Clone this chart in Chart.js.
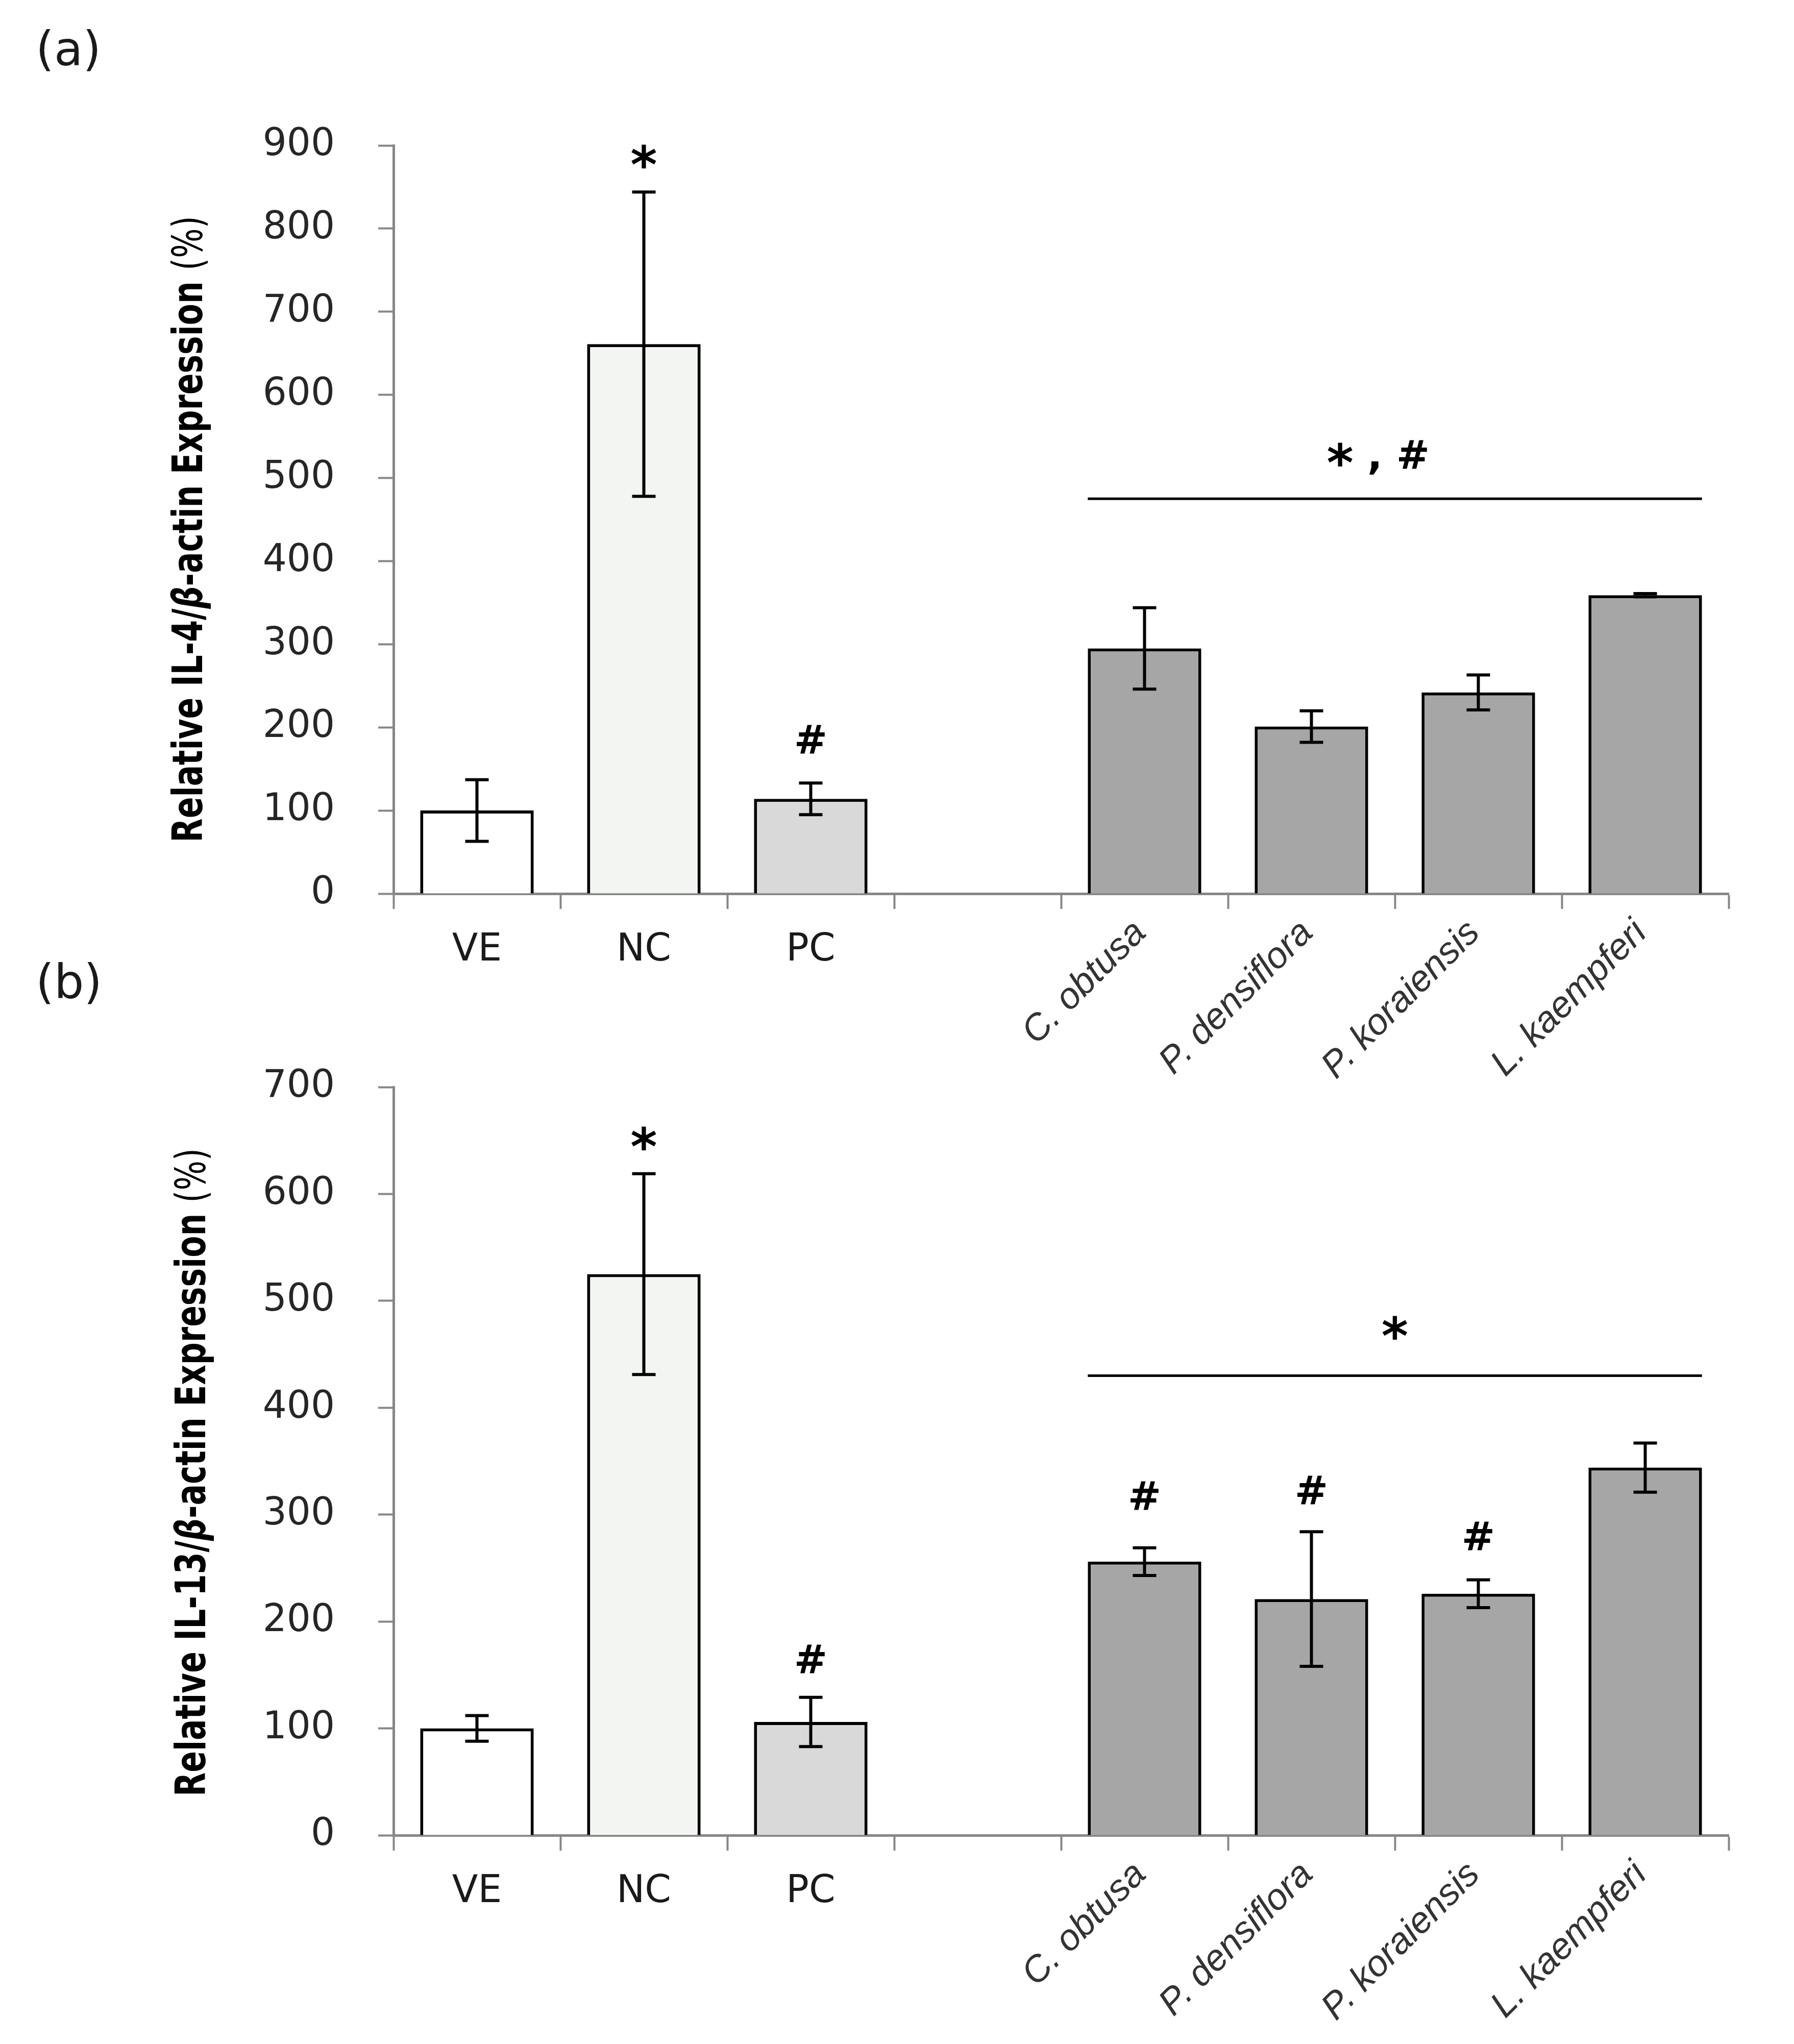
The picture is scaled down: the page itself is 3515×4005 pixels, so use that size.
<!DOCTYPE html>
<html>
<head>
<meta charset="utf-8">
<script src="https://cdn.jsdelivr.net/npm/chart.js@4.4.1/dist/chart.umd.min.js"></script>
<style>
  html, body { margin: 0; padding: 0; background: #fff; }
  body { width: 3515px; height: 4005px; position: relative; overflow: hidden; }
  canvas { position: absolute; left: 0; }
  #chartA { top: 0; }
  #chartB { top: 1850px; }
</style>
</head>
<body>
<canvas id="chartA" width="3515" height="2155"></canvas>
<canvas id="chartB" width="3515" height="2155"></canvas>
<script>
const controls = ['VE', 'NC', 'PC']
const extracts = ['C. obtusa', 'P. densiflora', 'P. koraiensis', 'L. kaempferi']
const categories = [...controls, '', ...extracts]

// (a) IL-4
const il4Mean = [100, 661, 114, null, 295, 201, 242, 359]
const il4Err = [37, 183, 19, null, 49, 19, 21, 2]
const il4Marks = [
  { text: '*', at: 1, y: 887 },
  { text: '#', at: 2, y: 186 },
  { text: '* , #', at: 5.4, y: 528 }
]
const il4Bracket = { from: 4, to: 7, y: 475 }

// (b) IL-13
const il13Mean = [100, 525, 106, null, 256, 221, 226, 344]
const il13Err = [12, 94, 23, null, 13, 63, 13, 23]
const il13Marks = [
  { text: '*', at: 1, y: 652 },
  { text: '#', at: 2, y: 165 },
  { text: '*', at: 5.5, y: 475 },
  { text: '#', at: 4, y: 318 },
  { text: '#', at: 5, y: 323 },
  { text: '#', at: 6, y: 280 }
]
const il13Bracket = { from: 4, to: 7, y: 430 }

const FONT = "'DejaVu Sans', sans-serif"
const markFont = "bold 78px " + FONT
const starFont = "bold 100px " + FONT

function drawMark(ctx, text, cx, cy) {
  ctx.font = markFont
  const h = ctx.measureText('#')
  const base = cy + (h.actualBoundingBoxAscent - h.actualBoundingBoxDescent) / 2
  const pieces = [...text].map(ch => {
    ctx.font = ch === '*' ? starFont : markFont
    const m = ctx.measureText(ch)
    let y = base
    if (ch === '*') y = cy + (m.actualBoundingBoxAscent - m.actualBoundingBoxDescent) / 2
    return { ch, font: ctx.font, w: m.width, y }
  })
  const total = pieces.reduce((s, p) => s + p.w, 0)
  let x = cx - total / 2
  ctx.textAlign = 'left'
  ctx.textBaseline = 'alphabetic'
  pieces.forEach(p => {
    ctx.font = p.font
    ctx.fillText(p.ch, x, p.y)
    x += p.w
  })
}

function drawTitle(ctx, segments, x, cy, squeeze) {
  ctx.save()
  ctx.translate(x, cy)
  ctx.rotate(-Math.PI / 2)
  ctx.scale(squeeze, 1)
  ctx.textAlign = 'left'
  ctx.textBaseline = 'alphabetic'
  let total = 0
  segments.forEach(s => { ctx.font = s.font; total += ctx.measureText(s.text).width })
  let pos = -total / 2
  segments.forEach(s => {
    ctx.font = s.font
    ctx.fillText(s.text, pos, 0)
    pos += ctx.measureText(s.text).width
  })
  ctx.restore()
}

function makeFigurePlugin(fig) {
  return {
    id: 'figure',
    afterDatasetsDraw(chart) {
      const ctx = chart.ctx
      const xs = chart.scales.x
      const ys = chart.scales.y
      const bars = chart.getDatasetMeta(0).data
      ctx.save()

      // error bars
      ctx.strokeStyle = '#000'
      ctx.lineWidth = 6
      fig.err.forEach((e, i) => {
        const v = fig.mean[i]
        if (v == null || e == null) return
        const x = bars[i].x
        const yt = ys.getPixelForValue(v + e)
        const yb = ys.getPixelForValue(v - e)
        ctx.beginPath()
        ctx.moveTo(x, yt); ctx.lineTo(x, yb)
        ctx.moveTo(x - 23, yt); ctx.lineTo(x + 23, yt)
        ctx.moveTo(x - 23, yb); ctx.lineTo(x + 23, yb)
        ctx.stroke()
      })

      // bracket over the extract groups
      const b = fig.bracket
      const x0 = bars[b.from].x - bars[b.from].width / 2
      const x1 = bars[b.to].x + bars[b.to].width / 2
      const yl = ys.getPixelForValue(b.y)
      ctx.lineWidth = 5
      ctx.beginPath()
      ctx.moveTo(x0, yl); ctx.lineTo(x1, yl)
      ctx.stroke()

      // significance marks
      ctx.fillStyle = '#000'
      fig.marks.forEach(m => drawMark(ctx, m.text, xs.getPixelForValue(m.at), ys.getPixelForValue(m.y)))

      // category labels
      const bottom = chart.chartArea.bottom
      categories.forEach((label, i) => {
        if (!label) return
        const x = xs.getPixelForValue(i)
        if (controls.includes(label)) {
          ctx.font = "74px " + FONT
          ctx.fillStyle = '#1a1a1a'
          ctx.textAlign = 'center'
          ctx.textBaseline = 'alphabetic'
          ctx.fillText(label, x, bottom + 131)
        } else {
          ctx.save()
          ctx.translate(x + 6, bottom + 80)
          ctx.rotate(-Math.PI / 4)
          ctx.font = "italic 72px 'Liberation Sans', sans-serif"
          ctx.fillStyle = '#333'
          ctx.textAlign = 'right'
          ctx.textBaseline = 'alphabetic'
          ctx.fillText(label, 0, 0)
          ctx.restore()
        }
      })

      // y axis title
      ctx.fillStyle = '#000'
      drawTitle(ctx, [
        { text: 'Relative ' + fig.gene + '/', font: 'bold 82px ' + FONT },
        { text: 'β', font: 'italic bold 82px ' + FONT },
        { text: '-actin Expression ', font: 'bold 82px ' + FONT },
        { text: '(%)', font: '82px ' + FONT }
      ], fig.titleX, fig.titleY, 0.75)

      // panel letter
      ctx.font = "92px " + FONT
      ctx.fillStyle = '#1a1a1a'
      ctx.textAlign = 'left'
      ctx.textBaseline = 'alphabetic'
      ctx.fillText(fig.panel, 70, fig.panelY)

      ctx.restore()
    }
  }
}

const axisGrey = '#878787'

function makeChart(id, mean, yMax, fig) {
  return new Chart(document.getElementById(id), {
    type: 'bar',
    data: {
      labels: categories,
      datasets: [{
        data: mean,
        backgroundColor: ['#ffffff', '#f3f5f3', '#d9d9d9', '#ffffff', '#a6a6a6', '#a6a6a6', '#a6a6a6', '#a6a6a6'],
        borderColor: '#000',
        borderWidth: 6,
        barPercentage: 0.68,
        categoryPercentage: 1
      }]
    },
    options: {
      responsive: false,
      animation: false,
      events: [],
      layout: { padding: fig.padding },
      scales: {
        x: {
          afterFit(scale) { scale.height = 40 },
          border: { color: axisGrey, width: 5 },
          grid: {
            offset: true,
            drawOnChartArea: false,
            drawTicks: true,
            tickLength: 30,
            tickWidth: 4,
            tickColor: axisGrey,
            color: axisGrey
          },
          ticks: { display: false }
        },
        y: {
          min: 0,
          max: yMax,
          afterFit(scale) { scale.width = 400 },
          border: { color: axisGrey, width: 5 },
          grid: {
            drawOnChartArea: false,
            drawTicks: true,
            tickLength: 30,
            tickWidth: 4,
            tickColor: axisGrey,
            color: axisGrey
          },
          ticks: {
            stepSize: 100,
            padding: 85,
            color: '#262626',
            font: { family: 'DejaVu Sans', size: 74 }
          }
        }
      },
      plugins: {
        legend: { display: false },
        tooltip: { enabled: false }
      }
    },
    plugins: [makeFigurePlugin(fig)]
  })
}

makeChart('chartA', il4Mean, 900, {
  mean: il4Mean, err: il4Err, marks: il4Marks, bracket: il4Bracket,
  gene: 'IL-4', panel: '(a)', panelY: 128, titleX: 396, titleY: 1037,
  padding: { top: 285, bottom: 364, left: 371, right: 128 }
})

makeChart('chartB', il13Mean, 700, {
  mean: il13Mean, err: il13Err, marks: il13Marks, bracket: il13Bracket,
  gene: 'IL-13', panel: '(b)', panelY: 106, titleX: 402, titleY: 1035,
  padding: { top: 280, bottom: 369, left: 371, right: 128 }
})
</script>
</body>
</html>
